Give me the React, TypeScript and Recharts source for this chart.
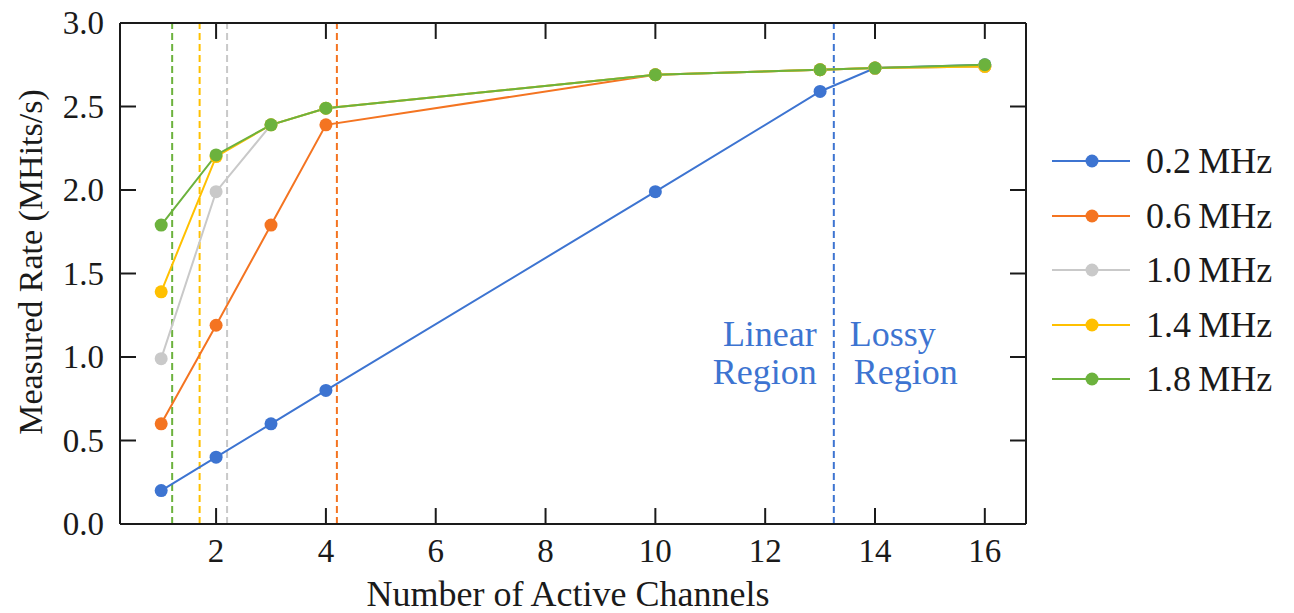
import React from "react";
import { LineChart, Line, XAxis, YAxis, ReferenceLine } from "recharts";

// channel counts on the x axis
const channels = [1, 2, 3, 4, 10, 13, 14, 16];

// measured rate (MHits/s) for each input rate
const rate02 = [0.2, 0.4, 0.6, 0.8, 1.99, 2.59, 2.73, 2.75];
const rate06 = [0.6, 1.19, 1.79, 2.39, 2.69, 2.72, 2.73, 2.74];
const rate10 = [0.99, 1.99, 2.39, 2.49, 2.69, 2.72, 2.73, 2.74];
const rate14 = [1.39, 2.2, 2.39, 2.49, 2.69, 2.72, 2.73, 2.74];
const rate18 = [1.79, 2.21, 2.39, 2.49, 2.69, 2.72, 2.73, 2.75];

// saturation thresholds (dashed verticals)
const limit18 = 1.2;
const limit14 = 1.7;
const limit10 = 2.2;
const limit06 = 4.2;
const limit02 = 13.25;

const xTicks = [2, 4, 6, 8, 10, 12, 14, 16];
const yTicks = [0, 0.5, 1, 1.5, 2, 2.5, 3];

const X_MIN = 0.25;
const X_MAX = 16.75;
const Y_MIN = 0;
const Y_MAX = 3;

const series = [
  { key: "r02", name: "0.2\u2009MHz", color: "#3d74d1", values: rate02, limit: limit02 },
  { key: "r06", name: "0.6\u2009MHz", color: "#f47421", values: rate06, limit: limit06 },
  { key: "r10", name: "1.0\u2009MHz", color: "#c9c9c9", values: rate10, limit: limit10 },
  { key: "r14", name: "1.4\u2009MHz", color: "#ffc000", values: rate14, limit: limit14 },
  { key: "r18", name: "1.8\u2009MHz", color: "#6cb23d", values: rate18, limit: limit18 },
];

const data = channels.map((n, i) => {
  const row: any = { n };
  series.forEach((s) => (row[s.key] = s.values[i]));
  return row;
});

const FONT = "'Liberation Serif', 'DejaVu Serif', serif";
const INK = "#1a1a1a";

// plot box size in px, used to turn a 16px tick into data units
const PLOT_W = 906;
const PLOT_H = 502;
const TICK = 16;
const xLen = (TICK * (X_MAX - X_MIN)) / PLOT_W;
const yLen = (TICK * (Y_MAX - Y_MIN)) / PLOT_H;

// inward tick marks on all four sides
const tickSegments: any[] = [
  ...xTicks.map((t) => [{ x: t, y: Y_MIN }, { x: t, y: Y_MIN + yLen }]),
  ...xTicks.map((t) => [{ x: t, y: Y_MAX }, { x: t, y: Y_MAX - yLen }]),
  ...yTicks.map((t) => [{ x: X_MIN, y: t }, { x: X_MIN + xLen, y: t }]),
  ...yTicks.map((t) => [{ x: X_MAX, y: t }, { x: X_MAX - xLen, y: t }]),
];

function BottomTick({ x, y, payload }: any) {
  return (
    <text x={x} y={y + 38} textAnchor="middle" fontSize={33} fontFamily={FONT} fill={INK}>
      {payload.value}
    </text>
  );
}

function LeftTick({ x, y, payload }: any) {
  return (
    <text x={x - 16} y={y + 11} textAnchor="end" fontSize={33} fontFamily={FONT} fill={INK}>
      {payload.value.toFixed(1)}
    </text>
  );
}

function YLabel() {
  return (
    <text
      x={30}
      y={262}
      transform="rotate(-90 30 262)"
      textAnchor="middle"
      dominantBaseline="central"
      fontSize={34}
      fontFamily={FONT}
      fill={INK}
    >
      Measured Rate (MHits/s)
    </text>
  );
}

function XLabel() {
  return (
    <text x={568} y={606} textAnchor="middle" fontSize={36} fontFamily={FONT} fill={INK}>
      Number of Active Channels
    </text>
  );
}

function RegionLabel({ viewBox }: any) {
  const x = viewBox.x;
  const style = { fontSize: 36, fontFamily: FONT, fill: "#3d74d1" };
  return (
    <g>
      <text x={x - 17} y={346} textAnchor="end" {...style}>Linear</text>
      <text x={x - 17} y={384} textAnchor="end" {...style}>Region</text>
      <text x={x + 16} y={346} textAnchor="start" {...style}>Lossy</text>
      <text x={x + 20} y={384} textAnchor="start" {...style}>Region</text>
    </g>
  );
}

function LegendBox() {
  return (
    <div style={{ position: "absolute", left: 1042, top: 134, fontFamily: FONT }}>
      {series.map((s) => (
        <div key={s.key} style={{ display: "flex", alignItems: "center", height: 54.5 }}>
          <svg width={96} height={20}>
            <line x1={10} y1={10} x2={88} y2={10} stroke={s.color} strokeWidth={2} />
            <circle cx={50} cy={10} r={6.5} fill={s.color} />
          </svg>
          <span style={{ fontSize: 36, color: INK, marginLeft: 8, whiteSpace: "nowrap" }}>{s.name}</span>
        </div>
      ))}
    </div>
  );
}

export default function App() {
  return (
    <div style={{ position: "absolute", left: 0, top: 0, width: 1294, height: 613, background: "#fff" }}>
      <LineChart
        width={1294}
        height={613}
        data={data}
        margin={{ top: 22, right: 267, bottom: 0, left: 0 }}
      >
        <XAxis
          dataKey="n"
          type="number"
          domain={[X_MIN, X_MAX]}
          ticks={xTicks}
          height={89}
          tickSize={0}
          tickMargin={0}
          tickLine={false}
          tick={<BottomTick />}
          stroke={INK}
          strokeWidth={2}
          label={<XLabel />}
        />
        <XAxis
          xAxisId="top"
          orientation="top"
          dataKey="n"
          type="number"
          domain={[X_MIN, X_MAX]}
          ticks={xTicks}
          height={1}
          tickLine={false}
          tick={false}
          stroke={INK}
          strokeWidth={2}
        />
        <YAxis
          type="number"
          domain={[Y_MIN, Y_MAX]}
          ticks={yTicks}
          width={120}
          tickSize={0}
          tickMargin={0}
          tickLine={false}
          tick={<LeftTick />}
          stroke={INK}
          strokeWidth={2}
          label={<YLabel />}
        />
        <YAxis
          yAxisId="right"
          orientation="right"
          type="number"
          domain={[Y_MIN, Y_MAX]}
          ticks={yTicks}
          width={1}
          tickLine={false}
          tick={false}
          stroke={INK}
          strokeWidth={2}
        />
        {tickSegments.map((seg, i) => (
          <ReferenceLine key={"tick-" + i} segment={seg} stroke={INK} strokeWidth={2} ifOverflow="visible" />
        ))}
        {series.map((s) => (
          <ReferenceLine
            key={"lim-" + s.key}
            x={s.limit}
            stroke={s.color}
            strokeWidth={2}
            strokeDasharray="7 4"
            label={s.key === "r02" ? <RegionLabel /> : undefined}
          />
        ))}
        {series.map((s) => (
          <Line
            key={s.key}
            dataKey={s.key}
            name={s.name}
            stroke={s.color}
            strokeWidth={2}
            dot={{ r: 6.5, fill: s.color, stroke: s.color, strokeWidth: 0 }}
            activeDot={false}
            isAnimationActive={false}
          />
        ))}
      </LineChart>
      <LegendBox />
    </div>
  );
}
